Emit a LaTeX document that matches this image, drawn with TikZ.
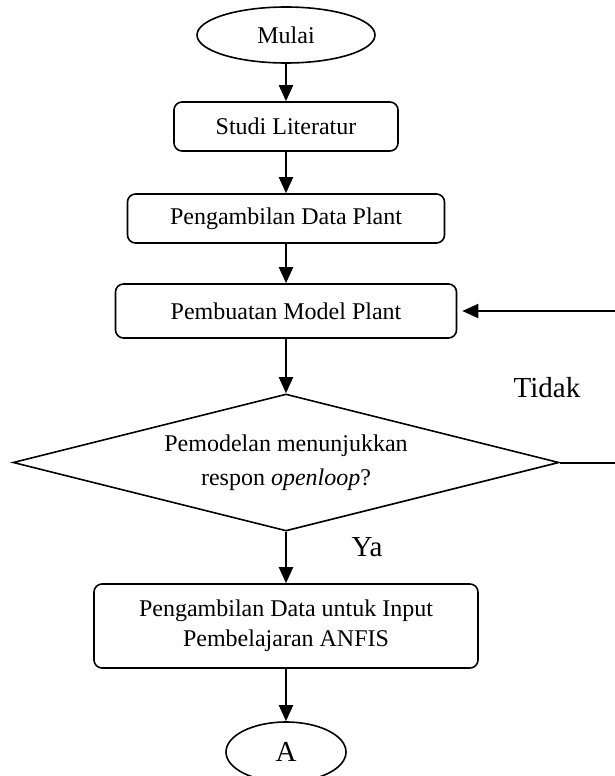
\documentclass[tikz,border=0pt]{standalone}
\usepackage{fontspec}
\setmainfont{Liberation Serif}
\usetikzlibrary{positioning}
\usetikzlibrary{shapes.geometric}
\usetikzlibrary{arrows.meta}

\begin{document}
\begin{tikzpicture}[x=0.5pt, y=-0.5pt,
	proses/.style={draw, line width=0.8pt, rounded corners=4pt, align=center, inner sep=0pt, font=\fontsize{12}{15}\selectfont},
	terminal/.style={draw, ellipse, line width=0.8pt, inner sep=0pt, font=\fontsize{12}{15}\selectfont},
	panah/.style={line width=1pt, -{Triangle[width=7pt, length=8pt]}},
	label/.style={font=\fontsize{14.5}{17}\selectfont}]
	 % Set the size of the page
	 \useasboundingbox (0,0) rectangle (615,776);

	 % Nodes of the flowchart
	 \node[terminal, minimum width=89pt, minimum height=28pt] (mulai) at (286,35) {Mulai};
	 \node[proses, minimum width=112pt, minimum height=24.5pt] (studi) at (286,126.5) {Studi Literatur};
	 \node[proses, minimum width=158.5pt, minimum height=24.5pt] (ambil) at (286,218.5) {Pengambilan Data Plant};
	 \node[proses, minimum width=170.5pt, minimum height=27pt] (model) at (286,311) {Pembuatan Model Plant};
	 \node[draw, diamond, line width=0.8pt, aspect=4, inner sep=0pt, minimum width=273pt, minimum height=68.5pt, align=center, font=\fontsize{12}{16}\selectfont] (cek) at (286,462.5) {Pemodelan menunjukkan\\[1pt]respon \textit{openloop}?};
	 \node[proses, minimum width=192pt, minimum height=42pt] (anfis) at (286,626) {Pengambilan Data untuk Input\\Pembelajaran ANFIS};
	 \node[terminal, minimum width=60pt, minimum height=30pt, font=\fontsize{14.5}{17}\selectfont] (konektor) at (286,752) {A};

	 % Labels of the decision
	 \node[label] (tidak) at (547,388) {Tidak};
	 \node[label] (ya) at (367,547) {Ya};

	 % Draw the arrows between the nodes
	 \draw[panah] (mulai) -- (studi);
	 \draw[panah] (studi) -- (ambil);
	 \draw[panah] (ambil) -- (model);
	 \draw[panah] (model) -- (cek);
	 \draw[panah] (cek) -- (anfis);
	 \draw[panah] (anfis) -- (konektor);

	 % Loop back when the model fails
	 \coordinate (balik) at (618,462.5);
	 \draw[panah, shorten >=2.5pt] (cek.east) -- (balik) |- (model.east);
\end{tikzpicture}
\end{document}
